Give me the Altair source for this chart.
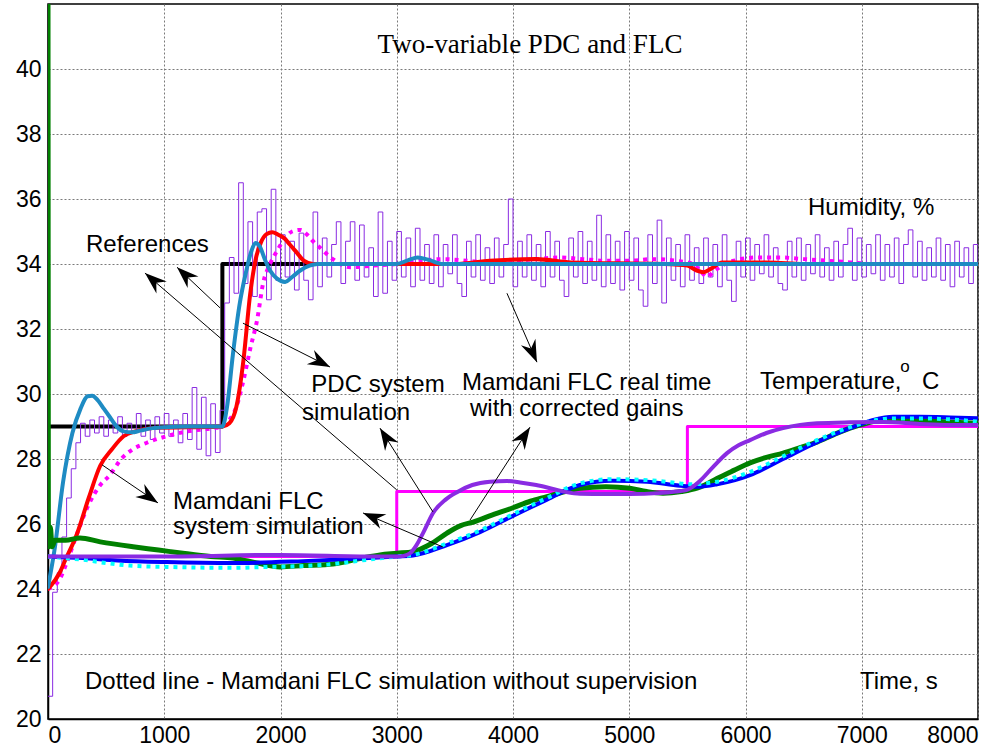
import math
import altair as alt
import pandas as pd

# ---------------- data ----------------
x_ticks = [0, 1000, 2000, 3000, 4000, 5000, 6000, 7000, 8000]
y_ticks = [20, 22, 24, 26, 28, 30, 32, 34, 36, 38, 40]

# humidity reference (black) and temperature reference (magenta) - step signals
hum_ref_t = [0, 1500, 8000]
hum_ref_v = [29, 34, 34]
tmp_ref_t = [0, 3000, 5500, 8000]
tmp_ref_v = [25, 27, 29, 29]

# humidity, real time with corrected gains (thin purple, sampled every 40 s)
hum_rt_v = [
    20.7, 23.9, 24.5, 25.6, 26.8, 27.7, 28.5, 29.1, 28.7, 29.2,
    28.8, 29.3, 28.7, 29.2, 28.8, 29.3, 28.7, 29.1, 28.8, 29.4,
    28.7, 29.2, 28.6, 29.3, 28.8, 29.4, 28.7, 29.2, 28.5, 29.4,
    28.6, 30.2, 28.3, 29.9, 28.1, 29.7, 28.2, 29.5, 32.8, 34.2,
    33.1, 36.5, 33.4, 35.3, 33.0, 35.6, 35.7, 32.9, 36.3, 33.5,
    34.9, 33.6, 34.7, 33.2, 34.95, 33.5, 32.9, 35.6, 33.3, 34.8,
    33.6, 34.6, 35.3, 33.4, 34.7, 35.3, 33.5, 35.2, 33.6, 34.5,
    33.0, 35.6, 33.1, 34.7, 33.5, 35.0, 33.6, 34.8, 33.3, 35.1,
    33.5, 34.6, 33.4, 34.9, 33.3, 34.6, 33.7, 34.9, 33.4, 33.0,
    34.7, 33.6, 34.9, 33.5, 34.5, 33.4, 34.8, 33.6, 34.6, 36.0,
    33.3, 34.7, 33.6, 34.9, 33.5, 34.6, 33.3, 35.0, 33.6, 34.7,
    33.5, 33.0, 34.8, 33.6, 35.0, 33.4, 34.7, 33.5, 35.5, 33.3,
    34.9, 33.4, 34.7, 33.2, 35.0, 33.5, 34.8, 33.2, 32.7, 34.9,
    33.4, 35.35, 32.8, 34.8, 33.5, 34.6, 33.3, 34.9, 33.5, 34.5,
    33.4, 34.8, 33.6, 34.6, 33.3, 34.9, 33.5, 32.85, 34.7, 33.6,
    34.8, 33.5, 34.6, 33.7, 34.9, 33.6, 34.5, 33.4, 33.2, 34.7,
    33.6, 34.8, 33.5, 34.6, 33.7, 34.9, 33.6, 34.5, 33.5, 34.7,
    33.6, 34.6, 35.1, 33.5, 34.8, 33.6, 34.6, 33.7, 34.9, 33.5,
    34.6, 33.6, 34.8, 33.4, 34.6, 35.05, 33.6, 34.7, 33.5, 34.5,
    33.6, 34.8, 33.5, 34.6, 33.3, 34.7, 33.6, 34.5, 33.4, 34.6,
    34.0,
]
hum_rt_t = [40 * i for i in range(len(hum_rt_v))]

# humidity, Mamdani FLC simulation without supervision (magenta dotted)
hum_ns_t = [0, 100, 160, 250, 350, 450, 530, 630, 730, 850, 1020, 1200, 1420, 1500,
            1560, 1620, 1680, 1740, 1800, 1850, 1910, 1970, 2040, 2100, 2170, 2230,
            2280, 2340, 2450, 2600, 2800, 3000, 3200, 3400, 3600, 3800, 4000, 4200,
            4400, 4600, 4800, 5000, 5200, 5400, 5550, 5620, 5670, 5720, 5800, 5900,
            6100, 6300, 6500, 6700, 6900, 7100, 7400, 7700, 8000]
hum_ns_v = [24.0, 24.3, 24.8, 25.7, 26.6, 27.2, 27.5, 28.0, 28.3, 28.5, 28.7, 28.85, 28.95, 29.0,
            29.2, 29.6, 30.4, 31.4, 32.3, 33.4, 34.0, 34.4, 34.8, 35.0, 35.05, 34.9,
            34.7, 34.5, 34.15, 33.9, 33.95, 34.0, 34.1, 34.15, 34.1, 34.05, 34.1, 34.15,
            34.2, 34.15, 34.1, 34.1, 34.15, 34.1, 34.0, 33.75, 33.6, 33.75, 33.95, 34.1,
            34.2, 34.2, 34.15, 34.1, 34.05, 34.0, 34.0, 34.0, 34.0]

# humidity, Mamdani FLC system simulation (red)
hum_fl_t = [0, 100, 150, 250, 350, 450, 550, 650, 750, 900, 1500, 1560, 1620, 1680, 1740,
            1790, 1830, 1880, 1930, 1980, 2030, 2080, 2140, 2200, 2280, 3500, 3800, 4200,
            4500, 5300, 5500, 5580, 5640, 5700, 5800, 6200, 6500, 8000]
hum_fl_v = [24.0, 24.5, 24.9, 25.7, 26.8, 27.8, 28.3, 28.7, 28.85, 28.95, 29.0, 29.1, 29.6,
            31.0, 33.1, 34.2, 34.65, 34.92, 34.98, 34.9, 34.8, 34.6, 34.35, 34.1, 34.0,
            34.0, 34.1, 34.15, 34.05, 34.0, 33.95, 33.8, 33.75, 33.85, 34.05, 34.05, 34.0, 34.0]

# humidity, PDC system simulation (steel blue)
hum_pdc_t = [0, 60, 130, 210, 280, 340, 380, 430, 480, 530, 590, 650, 720, 800, 900, 1000,
             1200, 1500, 1540, 1590, 1650, 1700, 1750, 1785, 1820, 1870, 1910, 1970, 2040,
             2100, 2170, 2250, 2320, 3000, 3100, 3180, 3280, 3400, 8000]
hum_pdc_v = [24.06, 25.3, 27.3, 28.8, 29.55, 29.93, 29.95, 29.8, 29.55, 29.3, 29.0, 28.85,
             28.82, 28.88, 28.95, 28.98, 29.0, 29.0, 29.6, 31.2, 32.8, 33.7, 34.4, 34.65,
             34.55, 34.1, 33.8, 33.55, 33.45, 33.6, 33.8, 33.95, 34.0, 34.0, 34.12, 34.2,
             34.12, 34.0, 34.0]

# temperature, Mamdani FLC system simulation (green)
tmp_fl_t = [0, 3, 10, 20, 35, 60, 150, 275, 450, 731, 950, 1161, 1400, 1591, 1800, 1996,
            2200, 2452, 2700, 2856, 3000, 3140, 3300, 3432, 3550, 3656, 3800, 4000, 4150,
            4292, 4450, 4576, 4800, 5006, 5150, 5290, 5450, 5583, 5650, 5755, 5900, 6039,
            6180, 6323, 6470, 6615, 6760, 6899, 7040, 7183, 7400, 7759, 8000]
tmp_fl_v = [42.0, 26.1, 25.3, 25.9, 25.3, 25.5, 25.5, 25.57, 25.45, 25.3, 25.2, 25.1, 25.0,
            24.95, 24.8, 24.68, 24.72, 24.77, 24.95, 25.05, 25.1, 25.15, 25.4, 25.72, 25.95,
            26.06, 26.25, 26.5, 26.7, 26.84, 27.0, 27.1, 27.15, 27.1, 27.0, 26.95, 27.0,
            27.1, 27.2, 27.4, 27.65, 27.88, 28.05, 28.18, 28.35, 28.52, 28.75, 28.95, 29.1,
            29.2, 29.2, 29.14, 29.1]

# temperature, PDC system simulation (blue)
tmp_pdc_t = [0, 301, 600, 1023, 1591, 2150, 2600, 3000, 3140, 3432, 3716, 4000, 4292, 4576,
             4860, 5153, 5437, 5600, 5755, 6039, 6323, 6615, 6899, 7100, 7269, 7500, 7759, 8000]
tmp_pdc_v = [25.0, 24.95, 24.88, 24.83, 24.8, 24.85, 24.92, 25.0, 25.03, 25.35, 25.75, 26.25,
             26.75, 27.2, 27.33, 27.3, 27.18, 27.15, 27.22, 27.5, 28.0, 28.52, 28.95, 29.2,
             29.3, 29.3, 29.28, 29.25]

# temperature, Mamdani FLC simulation without supervision (cyan dotted)
tmp_ns_t = [0, 150, 300, 500, 700, 1023, 1300, 1591, 1900, 2150, 2400, 2700, 3000, 3140, 3432,
            3716, 4000, 4292, 4576, 4860, 5153, 5437, 5500, 5755, 6039, 6323, 6615, 6899,
            7100, 7269, 7500, 7759, 8000]
tmp_ns_v = [25.0, 24.95, 24.9, 24.8, 24.72, 24.68, 24.66, 24.65, 24.68, 24.7, 24.75, 24.88,
            25.0, 25.05, 25.4, 25.8, 26.3, 26.8, 27.25, 27.38, 27.35, 27.25, 27.22, 27.3,
            27.6, 28.08, 28.58, 28.98, 29.18, 29.25, 29.25, 29.22, 29.15]

# temperature, Mamdani FLC real time with corrected gains (thick purple)
tmp_rt_t = [0, 1000, 2000, 2800, 3000, 3060, 3114, 3170, 3226, 3312, 3420, 3518, 3650, 3802,
            3950, 4060, 4200, 4344, 4460, 4576, 4800, 5006, 5250, 5400, 5497, 5600, 5720,
            5841, 5940, 6039, 6180, 6323, 6470, 6615, 6900, 7183, 7500, 7759, 8000]
tmp_rt_v = [25.0, 25.0, 25.05, 25.0, 25.0, 25.02, 25.1, 25.35, 25.72, 26.34, 26.75, 26.98,
            27.2, 27.3, 27.32, 27.28, 27.2, 27.08, 26.98, 26.93, 26.92, 26.92, 26.95, 27.0,
            27.05, 27.3, 27.75, 28.18, 28.42, 28.58, 28.8, 28.95, 29.05, 29.1, 29.13, 29.14,
            29.08, 29.05, 29.05]

# annotation arrows: start (t, v) -> tip (t2, v2)
arrow_t = [3000, 1480, 1677, 465, 3398, 3312, 3630, 3948]
arrow_v = [27.05, 32.65, 32.18, 27.82, 25.29, 26.37, 26.12, 33.1]
arrow_t2 = [834, 1110, 2426, 946, 2710, 2856, 4146, 4206]
arrow_v2 = [33.72, 33.9, 30.83, 26.65, 26.34, 28.95, 28.98, 30.98]

# texts
left_texts = ["References", "Mamdani FLC", "system simulation", "Mamdani FLC real time",
              "with corrected gains", "Humidity, %", "Temperature,", "C",
              "Dotted line - Mamdani FLC simulation without supervision", "Time, s"]
left_t = [327, 1075, 1075, 3561, 3630, 6538, 6125, 7518, 318, 6985]
left_v = [34.58, 26.68, 25.91, 30.34, 29.54, 35.72, 30.37, 30.37, 21.14, 21.14]
center_texts = ["PDC system", "simulation"]
center_t = [2839, 2650]
center_v = [30.28, 29.42]
title_text = "Two-variable PDC and FLC"
title_t, title_v = 4146, 40.74
sup_text, sup_t, sup_v = "o", 7372, 30.83

# ---------------- chart ----------------
W, H = 930, 715
XD, YD = [0, 8000], [20, 42]
SANS = "Liberation Sans"

xs = alt.Scale(domain=XD, nice=False, zero=False)
ys = alt.Scale(domain=YD, nice=False, zero=False)
X = alt.X("t:Q", scale=xs, axis=alt.Axis(values=x_ticks, title=None, format="d", labelPadding=5))
Y = alt.Y("v:Q", scale=ys, axis=alt.Axis(values=y_ticks, title=None, format="d", labelPadding=7))


def df(t, v):
    return pd.DataFrame({"t": t, "v": v})


def line(t, v, color, width, dash=None, interp="monotone", cap="round"):
    kw = dict(color=color, strokeWidth=width, interpolate=interp, clip=True, strokeCap=cap,
              strokeJoin="round")
    if dash is not None:
        kw["strokeDash"] = dash
    return alt.Chart(df(t, v)).mark_line(**kw).encode(x=X, y=Y, order="t:Q")


layers = [
    line(hum_ref_t, hum_ref_v, "black", 4, interp="step-after", cap="butt"),
    line(hum_rt_t, hum_rt_v, "#8a2be2", 1, interp="step-after", cap="butt"),
    line(hum_ns_t, hum_ns_v, "#ff00ff", 4, dash=[4, 5], cap="butt"),
    line(hum_fl_t, hum_fl_v, "#ff0000", 4),
    line(hum_pdc_t, hum_pdc_v, "#1e8bc3", 4),
    line(tmp_ref_t, tmp_ref_v, "#ff00ff", 3, interp="step-after", cap="butt"),
    line(tmp_fl_t, tmp_fl_v, "#008000", 5),
    line(tmp_pdc_t, tmp_pdc_v, "#0000ff", 4),
    line(tmp_ns_t, tmp_ns_v, "#00ffff", 4, dash=[4, 5], cap="butt"),
    line(tmp_rt_t, tmp_rt_v, "#8a2be2", 4),
]

# arrows
sx, sy = W / (XD[1] - XD[0]), H / (YD[1] - YD[0])
angles = []
for a, b, c, d in zip(arrow_t, arrow_v, arrow_t2, arrow_v2):
    dx = (c - a) * sx
    dy = -(d - b) * sy
    angles.append(math.degrees(math.atan2(dx, -dy)) % 360)
arr = pd.DataFrame({"t": arrow_t, "v": arrow_v, "t2": arrow_t2, "v2": arrow_v2, "ang": angles})
layers.append(
    alt.Chart(arr).mark_rule(color="black", strokeWidth=1).encode(
        x=X, y=Y, x2="t2:Q", y2="v2:Q")
)
head_path = "M0,0 L0.36,1 L0,0.68 L-0.36,1 Z"
heads = pd.DataFrame({"t": arrow_t2, "v": arrow_v2, "ang": angles})
layers.append(
    alt.Chart(heads).mark_point(shape=head_path, filled=True, color="black", opacity=1,
                                size=1936, strokeWidth=0).encode(
        x=X, y=Y, angle=alt.Angle("ang:Q", scale=None))
)

# texts
lt = pd.DataFrame({"t": left_t, "v": left_v, "txt": left_texts})
layers.append(alt.Chart(lt).mark_text(align="left", baseline="middle", font=SANS, fontSize=24,
                                      color="black").encode(x=X, y=Y, text="txt:N"))
ct = pd.DataFrame({"t": center_t, "v": center_v, "txt": center_texts})
layers.append(alt.Chart(ct).mark_text(align="center", baseline="middle", font=SANS, fontSize=24,
                                      color="black").encode(x=X, y=Y, text="txt:N"))
tt = pd.DataFrame({"t": [title_t], "v": [title_v], "txt": [title_text]})
layers.append(alt.Chart(tt).mark_text(align="center", baseline="middle", font="Liberation Serif",
                                      fontSize=27, color="black").encode(x=X, y=Y, text="txt:N"))
st = pd.DataFrame({"t": [sup_t], "v": [sup_v], "txt": [sup_text]})
layers.append(alt.Chart(st).mark_text(align="center", baseline="middle", font=SANS, fontSize=17,
                                      color="black").encode(x=X, y=Y, text="txt:N"))

chart = alt.layer(*layers).properties(
    width=W, height=H,
    autosize=alt.AutoSizeParams(type="none"),
    padding={"left": 48, "top": 4, "right": 30, "bottom": 34},
    background="white",
).configure_view(
    stroke="black", strokeWidth=1.5
).configure_axis(
    labelFont=SANS, labelFontSize=23, labelColor="black",
    domainColor="black", domainWidth=1.5,
    tickSize=0, grid=True, gridColor="#7a7a7a", gridDash=[2, 2], gridWidth=1, gridOpacity=1,
)

chart.save("out.html", embed_options={"renderer": "svg", "actions": False})
